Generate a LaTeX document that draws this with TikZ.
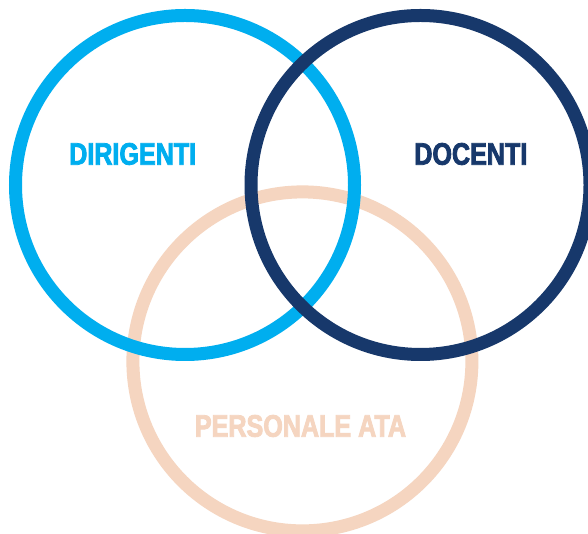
\documentclass[tikz,border=0pt]{standalone}
\usepackage{fontspec}
\newfontfamily\condfont[FakeStretch=0.81, BoldFeatures={FakeBold=2.6}]{Liberation Sans}
\definecolor{dirblue}{RGB}{0,174,239}
\definecolor{docnavy}{RGB}{23,56,107}
\definecolor{atapeach}{RGB}{245,213,192}
\tikzset{
  ring/.style={line width=13pt},
  label/.style={inner sep=0pt, font=\condfont\bfseries\fontsize{31}{31}\selectfont}
}
\begin{document}
\begin{tikzpicture}[x=1pt,y=1pt]
\clip (0,0) rectangle (588,534);
\fill[white] (0,0) rectangle (588,534);
\draw[ring, atapeach] (302.4,172.6) circle[radius=169.5];
\draw[ring, dirblue] (185,349) circle[radius=169.5];
\draw[ring, docnavy] (420.5,349) circle[radius=169.5];
\node[label, text=dirblue] (dir) at (132.7,380) {DIRIGENTI};
\node[label, text=docnavy] (doc) at (470.8,380) {DOCENTI};
\node[label, text=atapeach] (ata) at (300.5,108) {PERSONALE ATA};
\end{tikzpicture}
\end{document}
